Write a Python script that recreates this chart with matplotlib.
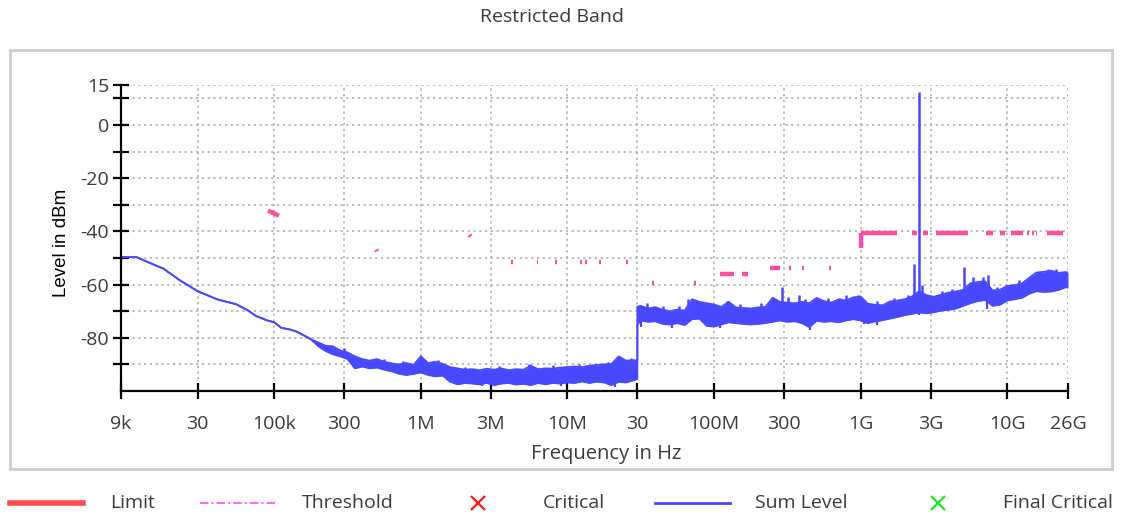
import numpy as np
import matplotlib
matplotlib.use("Agg")
import matplotlib.pyplot as plt
from matplotlib.lines import Line2D
from matplotlib.patches import Rectangle
from matplotlib.ticker import FixedLocator, FixedFormatter, NullLocator

plt.rcParams['font.family'] = ['Open Sans', 'DejaVu Sans']

# ---------------- data ----------------
title = "Restricted Band"
x_label = "Frequency in Hz"
y_label = "Level in dBm"

x_ticks = [9e3, 30e3, 1e5, 3e5, 1e6, 3e6, 1e7, 3e7, 1e8, 3e8, 1e9, 3e9, 1e10, 2.6e10]
x_tick_labels = ["9k", "30", "100k", "300", "1M", "3M", "10M", "30", "100M", "300",
                 "1G", "3G", "10G", "26G"]
y_ticks = [15, 10, 0, -10, -20, -30, -40, -50, -60, -70, -80, -90]
y_tick_labels = ["15", "", "0", "", "-20", "", "-40", "", "-60", "", "-80", ""]

# Sum level: measured band (lower / upper envelope) in dBm
sum_freq = [9e3, 11.5e3, 14.2e3, 17.5e3, 22.7e3, 30e3, 41e3, 55e3, 66e3, 75e3, 88.7e3,
            100e3, 112e3, 126e3, 141e3, 158e3, 178e3, 200e3, 224e3, 251e3, 282e3,
            316e3, 355e3, 398e3, 447e3, 501e3, 562e3, 631e3, 708e3, 794e3, 891e3,
            1.00e6, 1.12e6, 1.26e6, 1.41e6, 1.58e6, 1.78e6, 2.00e6, 2.24e6, 2.51e6, 2.82e6,
            3.16e6, 3.55e6, 3.98e6, 4.47e6, 5.01e6, 5.62e6, 6.31e6, 7.08e6, 7.94e6, 8.91e6,
            10.0e6, 11.2e6, 12.6e6, 14.1e6, 15.8e6, 17.8e6, 20.0e6, 22.4e6, 25.1e6, 28.2e6,
            30.0e6, 30.0e6, 31.6e6, 35.5e6, 39.8e6, 44.7e6, 50.1e6, 56.2e6, 63.1e6, 70.8e6,
            79.4e6, 89.1e6,
            100e6, 112e6, 126e6, 141e6, 158e6, 178e6, 200e6, 224e6, 251e6, 282e6,
            316e6, 355e6, 398e6, 447e6, 501e6, 562e6, 631e6, 708e6, 794e6, 891e6,
            1.00e9, 1.12e9, 1.26e9, 1.41e9, 1.58e9, 1.78e9, 2.00e9, 2.24e9, 2.51e9, 2.82e9,
            3.16e9, 3.55e9, 3.98e9, 4.47e9, 5.01e9, 5.62e9, 6.31e9, 7.08e9, 7.94e9, 8.91e9,
            10.0e9, 11.2e9, 12.6e9, 14.1e9, 15.8e9, 17.8e9, 20.0e9, 22.4e9, 25.1e9, 26.0e9]

sum_low = [-49.7, -49.7, -51.9, -54.0, -58.4, -62.5, -65.6, -67.4, -69.7, -71.8, -73.4,
           -74.2, -76.3, -76.8, -77.6, -79.0, -80.6, -83.2, -85.0, -86.2, -87.0,
           -88.0, -91.5, -90.8, -91.5, -91.2, -92.0, -92.6, -93.5, -94.0, -93.6,
           -93.0, -94.0, -94.5, -94.2, -96.5, -97.5, -97.0, -97.2, -97.5, -97.0,
           -97.8, -97.2, -97.0, -97.6, -97.3, -97.8, -97.0, -97.5, -97.0, -97.2,
           -96.8, -97.0, -96.4, -97.0, -96.5, -96.8, -97.8, -96.5, -96.8, -96.0,
           -95.5, -75.0, -73.5, -74.0, -73.8, -74.8, -75.0, -74.5, -75.2, -73.0,
           -72.8, -75.5,
           -75.8, -75.0, -74.2, -74.5, -74.8, -75.0, -74.8, -74.5, -74.0, -73.5,
           -74.0, -73.8, -74.5, -76.0, -73.6, -74.0, -73.8, -74.2, -73.5, -73.0,
           -73.5, -74.5, -73.8, -73.4, -72.8, -72.2, -71.5, -71.0, -70.5, -70.8,
           -70.4, -69.8, -69.5, -69.0, -68.0, -67.0, -66.2, -65.8, -68.0, -67.6,
           -66.0, -65.5, -65.0, -63.5, -62.5, -62.8, -62.6, -62.0, -61.0, -61.2]

sum_high = [-49.7, -49.7, -51.9, -54.0, -58.4, -62.5, -65.6, -67.4, -69.7, -71.8, -73.4,
            -74.2, -76.3, -76.8, -77.6, -79.0, -80.6, -81.8, -83.0, -83.2, -84.8,
            -85.5, -87.0, -88.0, -88.6, -88.0, -89.0, -89.6, -90.0, -89.5, -90.2,
            -87.0, -89.5, -89.0, -89.8, -91.0, -91.5, -92.0, -91.8, -92.2, -91.6,
            -92.0, -91.5, -92.2, -91.8, -92.0, -90.5, -91.8, -91.5, -91.6, -91.2,
            -91.0, -90.8, -91.0, -90.5, -90.2, -90.0, -89.8, -87.0, -88.6, -88.4,
            -88.6, -68.3, -68.0, -69.0, -68.5, -69.5, -70.0, -69.4, -69.8, -65.5,
            -66.5, -67.0,
            -67.5, -68.4, -66.5, -68.6, -68.8, -69.0, -68.6, -68.4, -65.0, -66.5,
            -66.8, -67.0, -66.5, -67.0, -65.0, -66.2, -66.8, -65.6, -66.0, -64.8,
            -64.5, -67.2, -67.6, -67.8, -66.4, -66.0, -65.5, -64.5, -62.5, -64.0,
            -64.6, -63.8, -63.0, -62.6, -62.0, -59.5, -59.0, -58.8, -62.2, -62.0,
            -60.5, -60.2, -59.6, -57.5, -55.5, -55.2, -54.8, -55.6, -55.3, -55.5]

# narrow peaks of the sum level (above the band)
spike_freq = [300e3, 560e3, 760e3, 1.0e6, 1.3e6, 2.0e6, 3.4e6, 5.5e6, 8.0e6, 12e6,
              19e6, 22e6, 27e6, 35e6, 45e6, 58e6, 66.7e6, 121.8e6, 150e6, 210e6,
              253e6, 289e6, 319e6, 379e6, 420e6, 488e6, 600e6, 722e6, 794e6, 958e6,
              1.3e9, 1.7e9, 2.1e9, 2.33e9, 2.50e9, 2.62e9, 3.6e9, 4.2e9, 5.04e9, 5.83e9,
              6.83e9, 7.38e9, 8.5e9, 12e9, 19e9, 21.5e9]
spike_level = [-84.0, -87.8, -88.8, -86.8, -88.2, -90.8, -90.6, -89.8, -90.2, -89.8,
               -89.2, -86.8, -87.6, -67.0, -68.2, -68.0, -65.3, -66.0, -67.2, -67.0,
               -64.7, -61.0, -64.7, -64.0, -65.5, -65.3, -65.0, -65.0, -63.8, -63.8,
               -66.2, -65.0, -63.8, -52.2, 12.5, -60.3, -62.3, -61.5, -53.4, -57.2,
               -57.2, -56.5, -60.8, -58.4, -54.0, -54.3]

# narrow dips of the sum level (below the band)
dip_freq = [2.6e6, 9e6, 21e6, 32e6, 52e6, 110e6, 450e6, 1.05e9, 1.3e9, 2.5e9, 7.3e9]
dip_level = [-98.2, -98.0, -98.6, -76.0, -76.2, -76.5, -77.0, -75.0, -75.2, -71.5, -69.0]

# limit / threshold segments
limit_start_freq = [90.6e3, 496e3, 2.14e6, 4.10e6, 6.18e6, 8.20e6, 12.2e6, 13.1e6, 16.4e6,
                    25.0e6, 37.5e6, 73.0e6, 109.6e6, 154e6, 240e6, 325e6, 398e6, 610e6,
                    1.0e9, 1.0e9, 2.23e9, 2.66e9, 3.26e9, 7.22e9, 8.91e9, 10.7e9,
                    13.6e9, 14.8e9, 15.7e9, 18.6e9]
limit_stop_freq = [107.7e3, 503e3, 2.19e6, 4.22e6, 6.34e6, 8.50e6, 12.6e6, 13.5e6, 17.0e6,
                   25.8e6, 38.8e6, 75.2e6, 136.7e6, 171e6, 281e6, 334e6, 410e6, 624e6,
                   1.0e9, 1.76e9, 2.41e9, 2.88e9, 5.40e9, 7.98e9, 9.64e9, 12.8e9,
                   14.0e9, 15.2e9, 16.1e9, 24.0e9]
limit_start_level = [-32.2, -46.9, -41.3, -51.6, -51.6, -51.6, -51.6, -51.6, -51.6,
                     -51.6, -59.4, -59.4, -55.9, -55.9, -53.9, -53.9, -53.9, -53.9,
                     -46.2, -40.7, -40.7, -40.7, -40.7, -40.7, -40.7, -40.7,
                     -40.7, -40.7, -40.7, -40.7]
limit_stop_level = [-34.1, -47.5, -41.9, -51.6, -51.6, -51.6, -51.6, -51.6, -51.6,
                    -51.6, -59.4, -59.4, -55.9, -55.9, -53.9, -53.9, -53.9, -53.9,
                    -40.7, -40.7, -40.7, -40.7, -40.7, -40.7, -40.7, -40.7,
                    -40.7, -40.7, -40.7, -40.7]

legend_labels = ["Limit", "Threshold", "Critical", "Sum Level", "Final Critical"]

# ---------------- style ----------------
BLUE = "#4848ff"
PINK = "#ff4da0"
TXT = "#3a3a3a"
W, H = 1131, 521

fig = plt.figure(figsize=(W / 100, H / 100), dpi=100)
fig.patch.set_facecolor("white")

def fx(px):
    return px / W

def fy(py):
    return 1 - py / H

# outer frame
fig.add_artist(Rectangle((fx(10), fy(469)), fx(1112) - fx(10), fy(50) - fy(469),
                         transform=fig.transFigure, fill=False,
                         edgecolor="#cdcdcd", linewidth=2))

ax = fig.add_axes([fx(121), fy(391), fx(1068) - fx(121), fy(85) - fy(391)])
ax.set_xscale("log")
ax.set_xlim(9e3, 2.6e10)
ax.set_ylim(-100, 15)

# grid
for yv in y_ticks:
    ax.axhline(yv, color="#b4b4b4", linestyle=(0, (1.2, 2.0)), linewidth=1.3, zorder=0.5)
for xv in x_ticks[1:]:
    ax.axvline(xv, color="#b4b4b4", linestyle=(0, (1.2, 2.0)), linewidth=1.3, zorder=0.5)

# sum level
f = np.array(sum_freq)
lo = np.array(sum_low)
hi = np.array(sum_high)
ax.fill_between(f, lo, hi, color=BLUE, linewidth=0, zorder=2)
ax.plot(f, lo, color=BLUE, linewidth=1.3, zorder=2)
ax.plot(f, hi, color=BLUE, linewidth=1.3, zorder=2)
lf = np.log10(f[1:])
top = np.interp(np.log10(spike_freq), lf, hi[1:])
ax.vlines(spike_freq, top - 2.0, spike_level, color=BLUE, linewidth=1.8, zorder=2)
bot = np.interp(np.log10(dip_freq), lf, lo[1:])
ax.vlines(dip_freq, bot + 2.0, dip_level, color=BLUE, linewidth=1.6, zorder=2)

# limit / threshold
for f1, f2, l1, l2 in zip(limit_start_freq, limit_stop_freq, limit_start_level, limit_stop_level):
    ax.plot([f1, f2], [l1, l2], color=PINK, linewidth=3.2, solid_capstyle="butt", zorder=3)

# axes styling
for s in ["top", "right"]:
    ax.spines[s].set_visible(False)
for s in ["left", "bottom"]:
    ax.spines[s].set_linewidth(1.6)
    ax.spines[s].set_color("black")
    ax.spines[s].set_zorder(4)

ax.xaxis.set_major_locator(FixedLocator(x_ticks))
ax.xaxis.set_major_formatter(FixedFormatter(x_tick_labels))
ax.xaxis.set_minor_locator(NullLocator())
ax.yaxis.set_major_locator(FixedLocator(y_ticks))
ax.yaxis.set_major_formatter(FixedFormatter(y_tick_labels))
ax.tick_params(axis="both", direction="inout", length=11, width=1.6, color="black",
               labelsize=14, labelcolor=TXT)
ax.tick_params(axis="x", pad=12)
ax.tick_params(axis="y", pad=3)

# texts
fig.text(fx(552), fy(17), title, ha="center", va="center", fontsize=14, color=TXT)
fig.text(fx(606), fy(454), x_label, ha="center", va="center", fontsize=14.5, color=TXT)
fig.text(fx(62), fy(243), y_label, ha="center", va="center", rotation=90,
         fontsize=13.5, color="black", family=["Liberation Sans", "DejaVu Sans"])

# legend
ly = fy(503)
fig.add_artist(Line2D([fx(10), fx(83)], [ly, ly], transform=fig.transFigure,
                      color="#ff4a4a", linewidth=4))
fig.add_artist(Line2D([fx(200), fx(275)], [ly, ly], transform=fig.transFigure,
                      color="#ff66ff", linewidth=1.5, linestyle=(0, (4, 1.5, 1, 1.5))))
fig.add_artist(Line2D([fx(478)], [ly], transform=fig.transFigure, marker="x",
                      markersize=10, markeredgewidth=1.6, color="#ff1a1a", linestyle="none"))
fig.add_artist(Line2D([fx(655), fx(730)], [ly, ly], transform=fig.transFigure,
                      color=BLUE, linewidth=2))
fig.add_artist(Line2D([fx(938)], [ly], transform=fig.transFigure, marker="x",
                      markersize=10, markeredgewidth=1.6, color="#1ee81e", linestyle="none"))
for xp, lab in zip([110, 302, 543, 755, 1003], legend_labels):
    fig.text(fx(xp), ly, lab, ha="left", va="center", fontsize=14, color=TXT)

fig.savefig("out.png", dpi=100)
